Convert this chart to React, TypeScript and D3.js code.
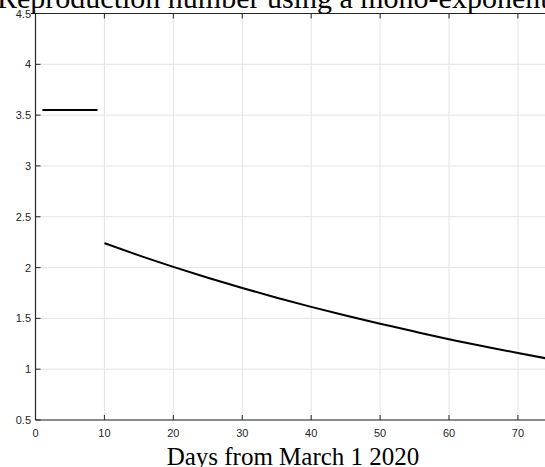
import React from "react";
import * as d3 from "d3";

const titleText = "Reproduction number using a mono-exponential decay";
const xLabelText = "Days from March 1 2020";

const xTicks = [0, 10, 20, 30, 40, 50, 60, 70];
const yTicks = [0.5, 1, 1.5, 2, 2.5, 3, 3.5, 4, 4.5];
const yTickLabels = ["0.5", "1", "1.5", "2", "2.5", "3", "3.5", "4", "4.5"];

const plateauDays = [1, 9];
const plateauR = [3.55, 3.55];

const decayDays = [10, 15, 20, 25, 30, 35, 40, 45, 50, 55, 60, 65, 70, 74];
const decayR = [2.24, 2.12, 2.007, 1.9, 1.799, 1.703, 1.613, 1.528, 1.448, 1.37, 1.295, 1.225, 1.16, 1.108];

const W = 545;
const H = 467;
const left = 35.5;
const right = 545.5;
const top = 13.5;
const bottom = 420;

export default function App() {
  const x = d3.scaleLinear().domain([0, 74]).range([left, right]);
  const y = d3.scaleLinear().domain([0.5, 4.5]).range([bottom, top]);
  const line = d3
    .line<[number, number]>()
    .x((d) => x(d[0]))
    .y((d) => y(d[1]))
    .curve(d3.curveNatural);
  const plateau = line(plateauDays.map((d, i) => [d, plateauR[i]] as [number, number]));
  const decay = line(decayDays.map((d, i) => [d, decayR[i]] as [number, number]));
  const axisColor = "#262626";
  const gridColor = "#e3e3e3";
  const tickLen = 5;
  return (
    <svg
      width={W}
      height={H}
      style={{ position: "absolute", left: 0, top: 0, background: "#fff" }}
    >
      <rect x={0} y={0} width={W} height={H} fill="#fff" />
      {xTicks.map((t) => (
        <line key={"gx" + t} x1={x(t)} x2={x(t)} y1={top} y2={bottom} stroke={gridColor} strokeWidth={1} />
      ))}
      {yTicks.map((t) => (
        <line key={"gy" + t} x1={left} x2={right} y1={y(t)} y2={y(t)} stroke={gridColor} strokeWidth={1} />
      ))}
      <path d={plateau || ""} fill="none" stroke="#000" strokeWidth={2} />
      <path d={decay || ""} fill="none" stroke="#000" strokeWidth={2} />
      <line x1={left} x2={right} y1={bottom} y2={bottom} stroke={axisColor} strokeWidth={1.2} />
      <line x1={left} x2={right} y1={top} y2={top} stroke={axisColor} strokeWidth={1.2} />
      <line x1={left} x2={left} y1={top} y2={bottom} stroke={axisColor} strokeWidth={1.2} />
      {xTicks.map((t) => (
        <g key={"tx" + t}>
          <line x1={x(t)} x2={x(t)} y1={bottom} y2={bottom - tickLen} stroke={axisColor} strokeWidth={1} />
          <line x1={x(t)} x2={x(t)} y1={top} y2={top + tickLen} stroke={axisColor} strokeWidth={1} />
          <text
            x={x(t)}
            y={437}
            textAnchor="middle"
            fontFamily="'Liberation Sans', Arial, sans-serif"
            fontSize={11}
            fill={axisColor}
          >
            {String(t)}
          </text>
        </g>
      ))}
      {yTicks.map((t, i) => (
        <g key={"ty" + t}>
          <line x1={left} x2={left + tickLen} y1={y(t)} y2={y(t)} stroke={axisColor} strokeWidth={1} />
          <text
            x={31}
            y={y(t) + 4}
            textAnchor="end"
            fontFamily="'Liberation Sans', Arial, sans-serif"
            fontSize={11}
            fill={axisColor}
          >
            {yTickLabels[i]}
          </text>
        </g>
      ))}
      <text
        x={-3}
        y={8}
        fontFamily="'Liberation Serif', 'Times New Roman', serif"
        fontSize={30}
        fill="#000"
      >
        {titleText}
      </text>
      <text
        x={293}
        y={465}
        textAnchor="middle"
        fontFamily="'Liberation Serif', 'Times New Roman', serif"
        fontSize={25}
        fill="#000"
      >
        {xLabelText}
      </text>
    </svg>
  );
}
